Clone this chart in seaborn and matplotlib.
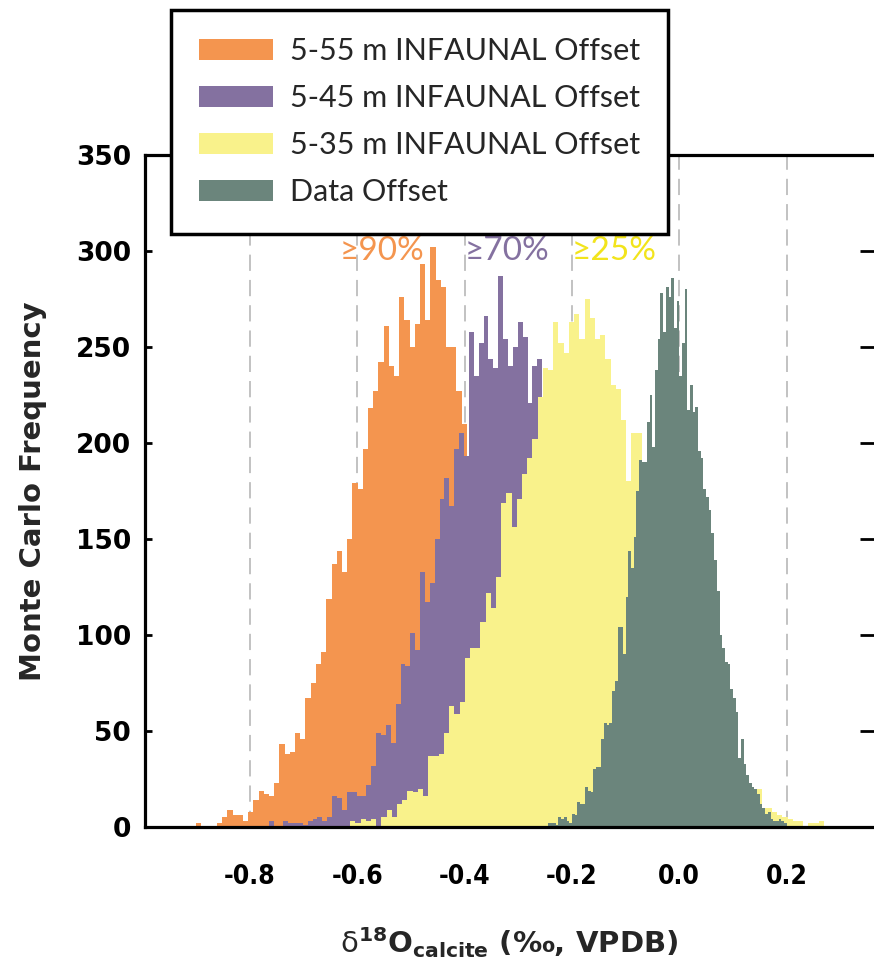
import numpy as np
import pandas as pd
import matplotlib
matplotlib.use('Agg')
import matplotlib.pyplot as plt
import seaborn as sns
from matplotlib.patches import Patch

# Monte Carlo histograms (counts per bin)
# first bin left edge and bin width of each series
orange_start, orange_width = -0.900, 0.0097
purple_start, purple_width = -0.765, 0.0091
yellow_start, yellow_width = -0.613, 0.0097
data_start, data_width = -0.245, 0.005

orange_counts = [2, 0, 0, 0, 2, 5, 9, 6, 6, 3, 8, 14, 19, 17, 16, 23, 43, 38, 39, 49,
                 46, 67, 75, 85, 91, 119, 137, 144, 133, 150, 179, 176, 197, 218, 227,
                 242, 261, 240, 235, 276, 264, 250, 262, 293, 264, 302, 285, 281, 250,
                 250, 227, 210, 190, 188, 180, 165, 150, 140, 125, 110, 95, 80, 68, 55,
                 45, 36, 28, 22, 16, 12, 8, 5, 3, 2, 1]
purple_counts = [3, 0, 0, 3, 2, 2, 2, 1, 3, 4, 5, 3, 5, 16, 15, 9, 18, 18, 16, 16, 22,
                 32, 49, 48, 53, 44, 64, 85, 84, 101, 92, 133, 117, 127, 150, 171, 182,
                 167, 197, 205, 193, 258, 235, 252, 266, 244, 239, 287, 254, 240, 250,
                 263, 255, 221, 240, 244, 220, 215, 205, 190, 180, 165, 150, 140, 125,
                 110, 100, 85, 75, 62, 52, 45, 36, 30, 24, 18, 14, 10, 8, 6, 4, 3, 2, 1, 1]
yellow_counts = [3, 2, 4, 3, 4, 0, 5, 9, 5, 12, 14, 19, 18, 20, 16, 37, 37, 38, 49, 63,
                 59, 65, 88, 93, 93, 107, 122, 114, 130, 169, 174, 156, 171, 184, 192,
                 202, 224, 239, 238, 263, 252, 247, 263, 267, 254, 275, 265, 254, 256,
                 244, 230, 228, 212, 180, 205, 205, 185, 175, 160, 150, 135, 120, 105,
                 95, 80, 70, 60, 52, 46, 42, 38, 33, 30, 28, 25, 22, 19, 16, 20, 10, 10,
                 8, 6, 5, 4, 3, 3, 0, 2, 2, 3]
data_counts = [2, 2, 2, 1, 5, 4, 5, 3, 2, 7, 6, 13, 12, 12, 21, 19, 18, 30, 31, 31,
               46, 54, 53, 54, 71, 76, 104, 104, 90, 120, 144, 135, 151, 175, 191, 190,
               190, 211, 225, 198, 238, 254, 278, 258, 281, 276, 286, 260, 274, 235,
               252, 280, 217, 230, 216, 219, 196, 192, 176, 172, 165, 153, 139, 123,
               100, 93, 86, 85, 72, 67, 60, 36, 46, 33, 27, 23, 21, 20, 17, 12, 10, 7,
               8, 4, 3, 3, 4, 3, 2]

labels = ['5-55 m INFAUNAL Offset', '5-45 m INFAUNAL Offset',
          '5-35 m INFAUNAL Offset', 'Data Offset']
colors = ['#F4954F', '#8471A0', '#F9F28B', '#6B857C']

pct_labels = ['\u226590%', '\u226570%', '\u226525%']
pct_x = [-0.554, -0.321, -0.121]
pct_colors = ['#F4954F', '#8471A0', '#F2E41C']

dash_x = [-0.8, -0.6, -0.4, -0.2, 0.0, 0.2]
xtick_labels = ['-0.8', '-0.6', '-0.4', '-0.2', '0.0', '0.2']

sns.set_style('white')
plt.rcParams['font.family'] = ['DejaVu Sans']

fig = plt.figure(figsize=(8.74, 9.73), dpi=100)
ax = fig.add_axes([145 / 874, 1 - 827 / 973, (874 - 145) / 874, (827 - 155) / 973])

for x0 in dash_x:
    ax.axvline(x0, color='#BDBDBD', lw=1.3, ls=(0, (9, 5)), zorder=0)

series = [(orange_start, orange_width, orange_counts),
          (purple_start, purple_width, purple_counts),
          (yellow_start, yellow_width, yellow_counts),
          (data_start, data_width, data_counts)]
for (start, width, counts), col in zip(series, colors):
    n = len(counts)
    df = pd.DataFrame({'center': start + width * (np.arange(n) + 0.5), 'count': counts})
    edges = list(start + width * np.arange(n + 1))
    sns.histplot(data=df, x='center', weights='count', bins=edges, element='step',
                 fill=True, color=col, alpha=1, linewidth=0, ax=ax, zorder=2)

for txt, x0, c in zip(pct_labels, pct_x, pct_colors):
    ax.text(x0, 300, txt, color=c, fontsize=24, ha='center', va='center',
            family=['Lato', 'DejaVu Sans'])

ax.set_xlim(-0.9953, 0.3628)
ax.set_ylim(0, 350)
ax.set_xticks(dash_x)
ax.set_xticklabels(xtick_labels, fontsize=19, fontweight='bold', fontstretch='condensed')
ax.set_yticks(range(0, 351, 50))
ax.set_yticklabels([str(v) for v in range(0, 351, 50)], fontsize=19, fontweight='bold')

for side in ['left', 'bottom', 'top']:
    ax.spines[side].set_linewidth(2.3)
    ax.spines[side].set_color('black')
ax.spines['right'].set_visible(False)

ax.tick_params(axis='x', direction='out', length=15, width=2, pad=12, colors='black')
ax.tick_params(axis='y', direction='in', length=5, width=2, pad=10, left=True,
               right=True, colors='black')
for t in ax.yaxis.get_major_ticks():
    t.tick2line.set_markersize(10)

ax.set_ylabel('Monte Carlo Frequency', fontsize=21, fontweight='bold')
ax.yaxis.set_label_coords(-0.135, 0.5)
ax.set_xlabel(r'$\mathrm{\delta}^{\mathbf{18}}\mathbf{O}_{\mathbf{calcite}}$ ('
              + '\u2030' + ', VPDB)', fontsize=21, fontweight='bold')
ax.xaxis.set_label_coords(0.5, -0.146)

handles = [Patch(facecolor=c, edgecolor='none', label=l) for c, l in zip(colors, labels)]
leg = ax.legend(handles=handles, loc='upper left', bbox_to_anchor=(171 / 874, 1 - 10 / 973),
                bbox_transform=fig.transFigure, borderaxespad=0, frameon=True,
                fancybox=False, framealpha=1, edgecolor='black', borderpad=0.9,
                handlelength=2.45, handleheight=0.69, handletextpad=0.56,
                labelspacing=0.62, prop={'family': 'Lato', 'size': 22})
leg.get_frame().set_linewidth(2.5)

fig.savefig('out.png', dpi=100)
